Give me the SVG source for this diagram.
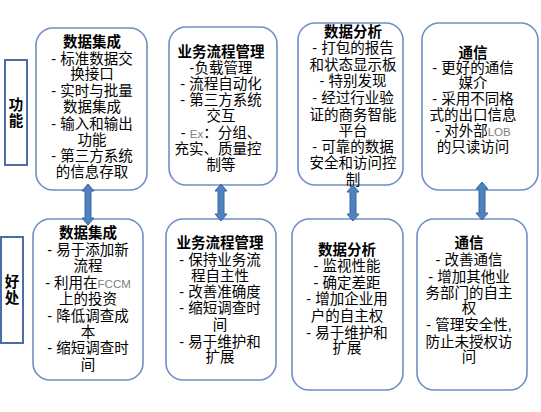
<svg xmlns="http://www.w3.org/2000/svg" width="541" height="412" viewBox="0 0 541 412">
<style>
.box{fill:#ffffff;stroke:#6f90c4;stroke-width:1.6}
.side{fill:#ffffff;stroke:#4a6ea8;stroke-width:2}
text{font-family:"Liberation Sans","Noto Sans CJK SC",sans-serif;font-size:14.5px;fill:#000;text-anchor:middle}
.t{font-weight:bold}
.g{fill:#808080;font-size:11.5px}
.arrow{fill:#4f81bd;stroke:#3a659c;stroke-width:1}
</style>
<rect width="541" height="412" fill="#ffffff"/>
<g id="label-func">
<rect class="side" x="5" y="60" width="22" height="105"/>
<text class="t" x="16" y="110">功</text>
<text class="t" x="16" y="126">能</text>
</g>
<g id="label-benefit">
<rect class="side" x="1" y="237" width="22" height="106"/>
<text class="t" x="12" y="287">好</text>
<text class="t" x="12" y="303">处</text>
</g>
<g id="f1">
<rect class="box" x="36" y="28" width="111" height="162" rx="17"/>
<text class="t" x="92" y="47">数据集成</text>
<text x="92" y="64">- 标准数据交</text>
<text x="92" y="79">换接口</text>
<text x="92" y="96">- 实时与批量</text>
<text x="92" y="112">数据集成</text>
<text x="92" y="129">- 输入和输出</text>
<text x="92" y="145">功能</text>
<text x="92" y="161">- 第三方系统</text>
<text x="92" y="177">的信息存取</text>
</g>
<g id="f2">
<rect class="box" x="169" y="27" width="108" height="158" rx="17"/>
<text class="t" x="221" y="57">业务流程管理</text>
<text x="221" y="73">-负载管理</text>
<text x="221" y="89">- 流程自动化</text>
<text x="221" y="105">- 第三方系统</text>
<text x="221" y="121">交互</text>
<text x="221" y="138">- <tspan class="g">Ex</tspan>：分组、</text>
<text x="218" y="154">充实、质量控</text>
<text x="221" y="170">制等</text>
</g>
<g id="f3">
<rect class="box" x="298" y="23" width="105" height="162" rx="17"/>
<text class="t" x="353" y="37">数据分析</text>
<text x="353" y="53">- 打包的报告</text>
<text x="353" y="70">和状态显示板</text>
<text x="353" y="86">- 特别发现</text>
<text x="353" y="103">- 经过行业验</text>
<text x="353" y="120">证的商务智能</text>
<text x="353" y="136">平台</text>
<text x="353" y="152">- 可靠的数据</text>
<text x="353" y="168">安全和访问控</text>
<text x="353" y="185">制</text>
</g>
<g id="f4">
<rect class="box" x="422" y="23" width="116" height="167" rx="17"/>
<text class="t" x="473" y="58">通信</text>
<text x="473" y="73">- 更好的通信</text>
<text x="473" y="88">媒介</text>
<text x="473" y="104">- 采用不同格</text>
<text x="473" y="120">式的出口信息</text>
<text x="473" y="136">- 对外部<tspan class="g">LOB</tspan></text>
<text x="473" y="152">的只读访问</text>
</g>
<g id="b1">
<rect class="box" x="33" y="219" width="110" height="161" rx="17"/>
<text class="t" x="88" y="238">数据集成</text>
<text x="88" y="255">- 易于添加新</text>
<text x="88" y="271">流程</text>
<text x="88" y="288">- 利用在<tspan class="g">FCCM</tspan></text>
<text x="88" y="304">上的投资</text>
<text x="88" y="321">- 降低调查成</text>
<text x="88" y="337">本</text>
<text x="88" y="353">- 缩短调查时</text>
<text x="88" y="370">间</text>
</g>
<g id="b2">
<rect class="box" x="166" y="219" width="110" height="161" rx="17"/>
<text class="t" x="220" y="248">业务流程管理</text>
<text x="220" y="265">- 保持业务流</text>
<text x="220" y="281">程自主性</text>
<text x="220" y="297">- 改善准确度</text>
<text x="220" y="313">- 缩短调查时</text>
<text x="220" y="330">间</text>
<text x="220" y="347">- 易于维护和</text>
<text x="220" y="362">扩展</text>
</g>
<g id="b3">
<rect class="box" x="292" y="219" width="111" height="171" rx="17"/>
<text class="t" x="347" y="255">数据分析</text>
<text x="347" y="271">- 监视性能</text>
<text x="347" y="288">- 确定差距</text>
<text x="347" y="304">- 增加企业用</text>
<text x="347" y="321">户的自主权</text>
<text x="347" y="338">- 易于维护和</text>
<text x="347" y="353">扩展</text>
</g>
<g id="b4">
<rect class="box" x="417" y="219" width="110" height="171" rx="17"/>
<text class="t" x="469" y="248">通信</text>
<text x="469" y="265">- 改善通信</text>
<text x="469" y="282">- 增加其他业</text>
<text x="469" y="298">务部门的自主</text>
<text x="469" y="313">权</text>
<text x="469" y="330">- 管理安全性,</text>
<text x="469" y="347">防止未授权访</text>
<text x="469" y="362">问</text>
</g>
<g id="connectors">
<path class="arrow" d="M88,184 l6,7 h-3 v27 h3 l-6,7 l-6,-7 h3 v-27 h-3 z"/>
<path class="arrow" d="M221,184 l6,7 h-3 v23 h3 l-6,7 l-6,-7 h3 v-23 h-3 z"/>
<path class="arrow" d="M353,185 l6,7 h-3 v22 h3 l-6,7 l-6,-7 h3 v-22 h-3 z"/>
<path class="arrow" d="M482,182 l6,7 h-3 v24 h3 l-6,7 l-6,-7 h3 v-24 h-3 z"/>
</g>
</svg>
